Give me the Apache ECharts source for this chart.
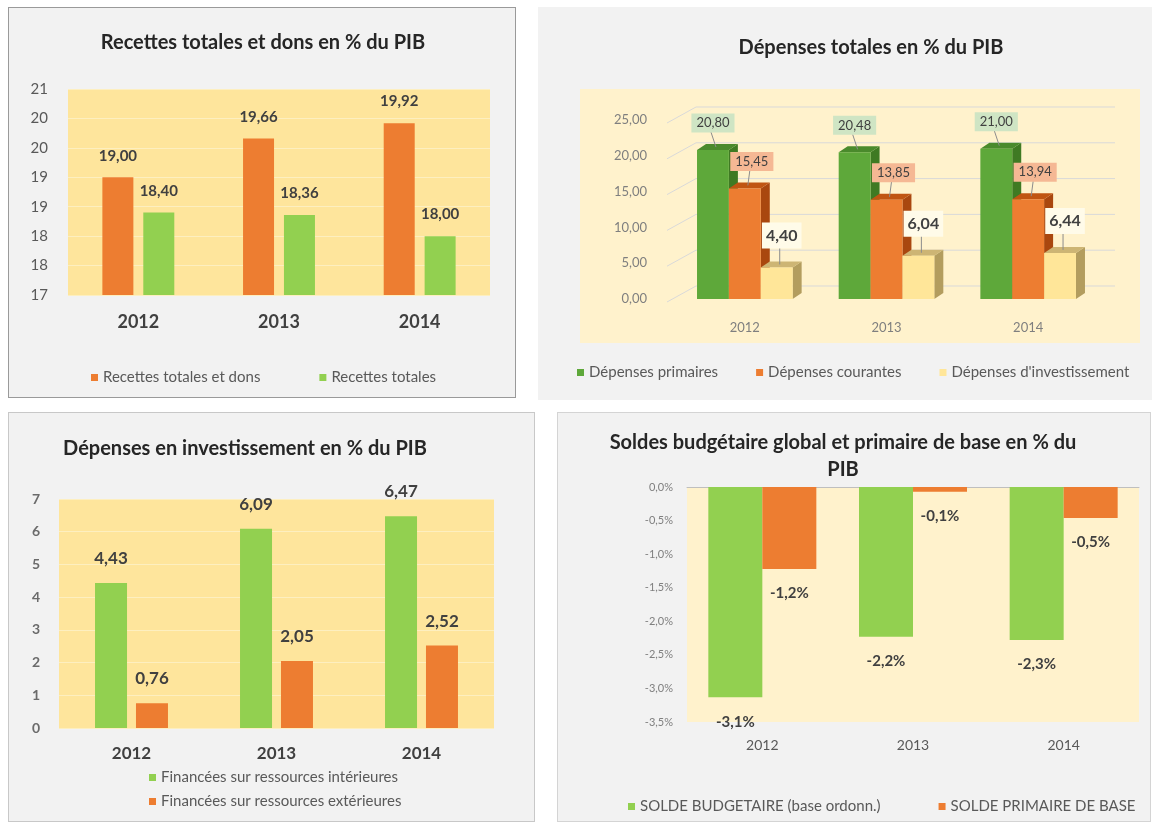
<!DOCTYPE html>
<html>
<head>
<meta charset="utf-8">
<script src="https://cdn.jsdelivr.net/npm/echarts@6/dist/echarts.min.js"></script>
<style>
body { margin: 0; background: #fff; }
.panel { position: absolute; background: #f2f2f2; box-sizing: border-box; }
#chart { position: absolute; left: 0; top: 0; width: 1158px; height: 825px; }
</style>
</head>
<body>
<div class="panel" style="left:8px;top:7px;width:508px;height:391px;border:1px solid #9a9a9a"></div>
<div class="panel" style="left:538px;top:7px;width:614px;height:393px"></div>
<div class="panel" style="left:580px;top:89px;width:560px;height:254px;background:#fff2cc"></div>
<div class="panel" style="left:8px;top:412px;width:527px;height:410px;border:1px solid #c8c8c8"></div>
<div class="panel" style="left:557px;top:412px;width:594px;height:410px;border:1px solid #d4d4d4"></div>
<div id="chart"></div>
<script>
var years = ['2012', '2013', '2014'];

// Recettes
var recettesDons = [19.00, 19.66, 19.92];
var recettesTotales = [18.40, 18.36, 18.00];

// Dépenses totales (3D)
var depPrimaires = [20.80, 20.48, 21.00];
var depCourantes = [15.45, 13.85, 13.94];
var depInvest = [4.40, 6.04, 6.44];
var depTicks = [0, 5, 10, 15, 20, 25];

// Investissement
var finInterieures = [4.43, 6.09, 6.47];
var finExterieures = [0.76, 2.05, 2.52];

// Soldes
var soldeBudget = [-3.13, -2.23, -2.28];
var soldePrimaire = [-1.22, -0.07, -0.46];

var GREEN = '#92d050';
var ORANGE = '#ed7d31';

function fmt2(v) { return v.toFixed(2).replace('.', ','); }
function fmtPct(v) { return v.toFixed(1).replace('.', ',') + '%'; }

// 3D box for the "Dépenses totales" chart
function box3d(k, colors, lab) {
  return function (params, api) {
    var c = api.value(0), v = api.value(1);
    var bw = api.size([1, 0])[0] * 0.225;
    var p0 = api.coord([c, 0]);
    var p1 = api.coord([c, v]);
    var x0 = p0[0] + (k - 1.5) * bw, x1 = x0 + bw;
    var yb = p0[1], yt = p1[1];
    var dx = 9, dy = -6;
    var cx = (x0 + x1) / 2;
    var lx = cx + lab.dx, ly = yt + lab.dy;
    return {
      type: 'group',
      children: [
        { type: 'polygon', shape: { points: [[x1, yt], [x1 + dx, yt + dy], [x1 + dx, yb + dy], [x1, yb]] }, style: { fill: colors[1] } },
        { type: 'polygon', shape: { points: [[x0, yt], [x0 + dx, yt + dy], [x1 + dx, yt + dy], [x1, yt]] }, style: { fill: colors[2] } },
        { type: 'rect', shape: { x: x0, y: yt, width: bw, height: yb - yt }, style: { fill: colors[0] } },
        { type: 'line', shape: { x1: lx - 2, y1: ly + lab.h, x2: cx + 3, y2: yt - 3 }, style: { stroke: '#8c8c8c', lineWidth: 1 } },
        {
          type: 'text', x: lx, y: ly,
          style: {
            text: fmt2(v), align: 'center', verticalAlign: 'middle',
            fontSize: lab.size, fontWeight: lab.weight, fontFamily: 'Lato',
            fill: '#404040', backgroundColor: lab.bg, padding: lab.pad
          }
        }
      ]
    };
  };
}

function wallItem(params, api) {
  var v = api.value(1);
  var cw = api.size([1, 0])[0];
  var pL = api.coord([0, v]), pR = api.coord([2, v]);
  var left = pL[0] - cw / 2, right = pR[0] + cw / 2, y = pL[1];
  return {
    type: 'group',
    children: [
      { type: 'line', shape: { x1: left - 7, y1: y + 3, x2: left + 22, y2: y - 13 }, style: { stroke: '#d9d9d9', lineWidth: 1 } },
      { type: 'line', shape: { x1: left + 22, y1: y - 13, x2: right + 16, y2: y - 13 }, style: { stroke: '#d9d9d9', lineWidth: 1 } }
    ]
  };
}

var titleStyle = { fontSize: 20, fontWeight: 'bold', color: '#262626', fontFamily: 'Lato' };
var legendBase = { icon: 'rect', itemWidth: 7, itemHeight: 7, padding: 0, textStyle: { fontSize: 15, color: '#595959', fontFamily: 'Lato' } };

var chart = echarts.init(document.getElementById('chart'));
chart.setOption({
  animation: false,
  textStyle: { fontFamily: 'Lato' },
  title: [
    { text: 'Recettes totales et dons en % du PIB', left: 263, top: 33, textAlign: 'center', padding: 0, textStyle: titleStyle },
    { text: 'Dépenses totales en % du PIB', left: 871, top: 38, textAlign: 'center', padding: 0, textStyle: titleStyle },
    { text: 'Dépenses en investissement en % du PIB', left: 245, top: 439, textAlign: 'center', padding: 0, textStyle: titleStyle },
    { text: 'Soldes budgétaire global et primaire de base en % du\nPIB', left: 843, top: 429, textAlign: 'center', padding: 0,
      textStyle: Object.assign({}, titleStyle, { lineHeight: 27 }) }
  ],
  legend: [
    Object.assign({}, legendBase, { data: ['Recettes totales et dons', 'Recettes totales'], left: 91, top: 370, itemGap: 59 }),
    Object.assign({}, legendBase, { data: ['Dépenses primaires', 'Dépenses courantes', "Dépenses d'investissement"], left: 577, top: 365, itemGap: 38 }),
    Object.assign({}, legendBase, { data: ['Financées sur ressources intérieures', 'Financées sur ressources extérieures'], orient: 'vertical', left: 149, top: 770, itemGap: 9 }),
    Object.assign({}, legendBase, { data: ['SOLDE BUDGETAIRE (base ordonn.)', 'SOLDE PRIMAIRE DE BASE'], left: 628, top: 799, itemGap: 58 })
  ],
  grid: [
    { left: 68, right: 668, top: 89, bottom: 530, show: true, backgroundColor: '#fee59c', borderWidth: 0 },
    { left: 674, right: 59, top: 120, bottom: 526 },
    { left: 59, right: 664, top: 499, bottom: 97, show: true, backgroundColor: '#fee59c', borderWidth: 0 },
    { left: 687, right: 19, top: 487, bottom: 103, show: true, backgroundColor: '#fff2cc', borderWidth: 0 }
  ],
  xAxis: [
    { type: 'category', gridIndex: 0, data: years, axisLine: { show: false }, axisTick: { show: false },
      axisLabel: { margin: 18, fontSize: 18, fontWeight: 'bold', color: '#404040' } },
    { type: 'category', gridIndex: 1, data: years, axisLine: { show: false }, axisTick: { show: false },
      axisLabel: { margin: 22, fontSize: 13, color: '#7f7f7f' } },
    { type: 'category', gridIndex: 2, data: years, axisLine: { show: false }, axisTick: { show: false },
      axisLabel: { margin: 17, fontSize: 17, fontWeight: 'bold', color: '#404040' } },
    { type: 'category', gridIndex: 3, data: years, position: 'bottom', axisLine: { show: false, onZero: false }, axisTick: { show: false },
      axisLabel: { margin: 16, fontSize: 14, color: '#595959' } },
    { type: 'category', gridIndex: 3, data: years, position: 'top', axisLine: { show: true, onZero: false, lineStyle: { color: '#bfbfbf', width: 1 } },
      axisTick: { show: false }, axisLabel: { show: false } }
  ],
  yAxis: [
    { type: 'value', gridIndex: 0, min: 17, max: 20.5, interval: 0.5,
      axisLabel: { margin: 20, fontSize: 15, color: '#595959', formatter: function (v) { return Math.round(v); } },
      splitLine: { lineStyle: { color: '#fdefc0', width: 1 } } },
    { type: 'value', gridIndex: 1, min: 0, max: 25, interval: 5,
      axisLabel: { margin: 27, fontSize: 13, color: '#7f7f7f', padding: [10, 0, 0, 0], formatter: fmt2 },
      splitLine: { show: false } },
    { type: 'value', gridIndex: 2, min: 0, max: 7, interval: 1,
      axisLabel: { margin: 19, fontSize: 14, fontWeight: 'bold', color: '#6b6b6b' },
      splitLine: { lineStyle: { color: '#fdefc0', width: 1 } } },
    { type: 'value', gridIndex: 3, min: -3.5, max: 0, interval: 0.5,
      axisLabel: { margin: 14, fontSize: 11, color: '#7f7f7f', formatter: fmtPct },
      splitLine: { show: false } }
  ],
  series: [
    { name: 'Recettes totales et dons', type: 'bar', xAxisIndex: 0, yAxisIndex: 0, data: recettesDons,
      barWidth: 31, barGap: '32%', itemStyle: { color: ORANGE },
      label: { show: true, position: 'top', distance: 14, fontSize: 15, fontWeight: 'bold', color: '#404040', formatter: function (p) { return fmt2(p.value); } } },
    { name: 'Recettes totales', type: 'bar', xAxisIndex: 0, yAxisIndex: 0, data: recettesTotales,
      barWidth: 31, barGap: '32%', itemStyle: { color: GREEN },
      label: { show: true, position: 'top', distance: 14, fontSize: 15, fontWeight: 'bold', color: '#404040', formatter: function (p) { return fmt2(p.value); } } },

    { name: 'wall', type: 'custom', xAxisIndex: 1, yAxisIndex: 1, z: 1, silent: true,
      data: depTicks.map(function (t) { return [0, t]; }), encode: { x: 0, y: 1 }, renderItem: wallItem },
    { name: 'Dépenses primaires', type: 'custom', xAxisIndex: 1, yAxisIndex: 1, itemStyle: { color: '#5ea83a' },
      data: depPrimaires.map(function (v, i) { return [i, v]; }), encode: { x: 0, y: 1 },
      renderItem: box3d(0, ['#5ea83a', '#3f7a23', '#4a8a2c'], { dx: 0, dy: -27, h: 9, size: 13, weight: 'normal', bg: '#cfe5c4', pad: [3, 5] }) },
    { name: 'Dépenses courantes', type: 'custom', xAxisIndex: 1, yAxisIndex: 1, itemStyle: { color: ORANGE },
      data: depCourantes.map(function (v, i) { return [i, v]; }), encode: { x: 0, y: 1 },
      renderItem: box3d(1, [ORANGE, '#a9470f', '#c05512'], { dx: 7, dy: -27, h: 9, size: 13, weight: 'normal', bg: '#f5b894', pad: [3, 5] }) },
    { name: "Dépenses d'investissement", type: 'custom', xAxisIndex: 1, yAxisIndex: 1, itemStyle: { color: '#ffe699' },
      data: depInvest.map(function (v, i) { return [i, v]; }), encode: { x: 0, y: 1 },
      renderItem: box3d(2, ['#ffe699', '#b39d5e', '#cdb574'], { dx: 5, dy: -32, h: 11, size: 16, weight: 'bold', bg: '#fffbe9', pad: [5, 4] }) },

    { name: 'Financées sur ressources intérieures', type: 'bar', xAxisIndex: 2, yAxisIndex: 2, data: finInterieures,
      barWidth: 32, barGap: '28%', itemStyle: { color: GREEN },
      label: { show: true, position: 'top', distance: 16, fontSize: 17, fontWeight: 'bold', color: '#404040', formatter: function (p) { return fmt2(p.value); } } },
    { name: 'Financées sur ressources extérieures', type: 'bar', xAxisIndex: 2, yAxisIndex: 2, data: finExterieures,
      barWidth: 32, barGap: '28%', itemStyle: { color: ORANGE },
      label: { show: true, position: 'top', distance: 16, fontSize: 17, fontWeight: 'bold', color: '#404040', formatter: function (p) { return fmt2(p.value); } } },

    { name: 'SOLDE BUDGETAIRE (base ordonn.)', type: 'bar', xAxisIndex: 3, yAxisIndex: 3, data: soldeBudget,
      barWidth: 54, barGap: '0%', itemStyle: { color: GREEN },
      label: { show: true, position: 'bottom', distance: 17, fontSize: 15, fontWeight: 'bold', color: '#404040', formatter: function (p) { return fmtPct(p.value); } } },
    { name: 'SOLDE PRIMAIRE DE BASE', type: 'bar', xAxisIndex: 3, yAxisIndex: 3, data: soldePrimaire,
      barWidth: 54, barGap: '0%', itemStyle: { color: ORANGE },
      label: { show: true, position: 'bottom', distance: 17, fontSize: 15, fontWeight: 'bold', color: '#404040', formatter: function (p) { return fmtPct(p.value); } } }
  ]
});
</script>
</body>
</html>
